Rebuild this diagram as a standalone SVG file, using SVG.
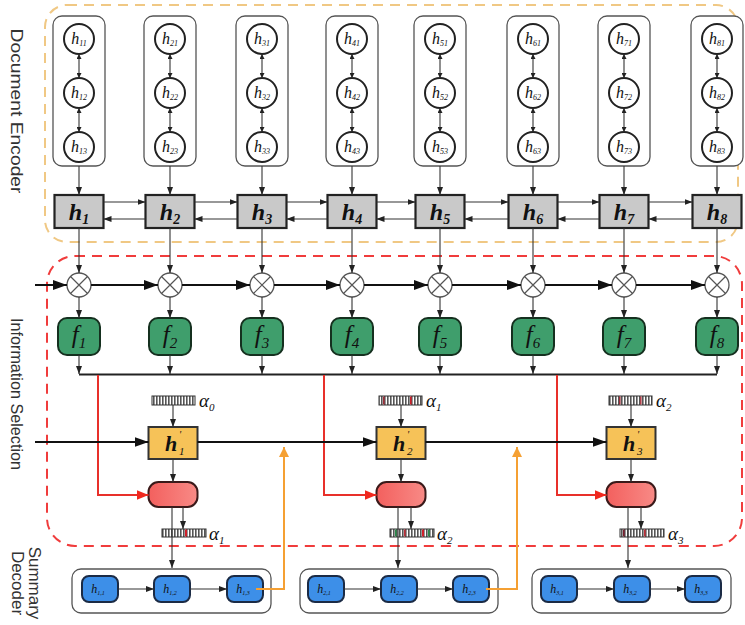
<svg xmlns="http://www.w3.org/2000/svg" width="745" height="625" viewBox="0 0 745 625">
<style>
.col{fill:#fff;stroke:#555;stroke-width:1.3}
.cir{fill:#fff;stroke:#222;stroke-width:2}
.gbox{fill:#c9c9c9;stroke:#222;stroke-width:2.2}
.fbox{fill:#3f9e6c;stroke:#15301f;stroke-width:2}
.ybox{fill:#f6c258;stroke:#333;stroke-width:2}
.pbox{fill:url(#pg);stroke:#3a1a1a;stroke-width:2}
.bbox{fill:#3d8fe8;stroke:#1b2b45;stroke-width:2}
.cont{fill:none;stroke:#555;stroke-width:1.3}
.mul{fill:#fff;stroke:#555;stroke-width:1.3}
.ln{fill:none;stroke:#333;stroke-width:1.1}
.thk{fill:none;stroke:#111;stroke-width:2}
.red{fill:none;stroke:#e8302a;stroke-width:2}
.org{fill:none;stroke:#f5a033;stroke-width:2}
.m{font-family:"Liberation Serif","Times New Roman",serif;font-style:italic;fill:#111}
.side{font-family:"Liberation Sans",Arial,sans-serif;font-size:17px;fill:#333}
</style>
<defs>
<linearGradient id="pg" x1="0" x2="1" y1="0" y2="0"><stop offset="0" stop-color="#f3605e"/><stop offset="1" stop-color="#f88a86"/></linearGradient>
<marker id="a" markerUnits="userSpaceOnUse" markerWidth="8" markerHeight="6" refX="8" refY="3" orient="auto-start-reverse"><path d="M0,0 L8,3 L0,6 z" fill="#222"/></marker>
<marker id="t" markerUnits="userSpaceOnUse" markerWidth="5" markerHeight="5" refX="5" refY="2.5" orient="auto-start-reverse"><path d="M0,0 L5,2.5 L0,5 z" fill="#222"/></marker>
<marker id="b" markerUnits="userSpaceOnUse" markerWidth="14" markerHeight="10" refX="14" refY="5" orient="auto"><path d="M0,0 L14,5 L0,10 z" fill="#111"/></marker>
<marker id="r" markerUnits="userSpaceOnUse" markerWidth="12" markerHeight="10" refX="12" refY="5" orient="auto"><path d="M0,0 L12,5 L0,10 z" fill="#f0281e"/></marker>
<marker id="o" markerUnits="userSpaceOnUse" markerWidth="10" markerHeight="10" refX="10" refY="5" orient="auto"><path d="M0,0 L10,5 L0,10 z" fill="#f5a033"/></marker>
<pattern id="st" patternUnits="userSpaceOnUse" width="3" height="12"><rect width="3" height="12" fill="#fff"/><rect width="1.6" height="12" fill="#555"/></pattern>
<g id="mx"><circle r="12" class="mul"/><path d="M-8.5,-8.5 L8.5,8.5 M8.5,-8.5 L-8.5,8.5" stroke="#555" stroke-width="1.2"/></g>
</defs>

<!-- region frames -->
<rect x="45" y="5" width="693" height="237" rx="22" fill="none" stroke="#f0c884" stroke-width="2" stroke-dasharray="10 7"/>
<rect x="47" y="256" width="695" height="290" rx="28" fill="none" stroke="#f03c3c" stroke-width="2" stroke-dasharray="10 7"/>

<text class="side" transform="translate(11,111) rotate(90)" text-anchor="middle" textLength="165" lengthAdjust="spacingAndGlyphs">Document Encoder</text>
<text class="side" transform="translate(11,394) rotate(90)" text-anchor="middle" textLength="152" lengthAdjust="spacingAndGlyphs">Information Selection</text>
<text class="side" transform="translate(29,583) rotate(90)" text-anchor="middle">Summary</text>
<text class="side" transform="translate(12,583) rotate(90)" text-anchor="middle">Decoder</text>

<!-- word-level columns -->
<g id="col1"><rect class="col" x="53" y="16" width="52" height="150" rx="9"/>
<circle class="cir" cx="79" cy="39" r="15"/><circle class="cir" cx="79" cy="93" r="15"/><circle class="cir" cx="79" cy="147" r="15"/>
<text class="m" x="79" y="44" font-size="16" text-anchor="middle">h<tspan font-size="8" dy="2">11</tspan></text>
<text class="m" x="79" y="98" font-size="16" text-anchor="middle">h<tspan font-size="8" dy="2">12</tspan></text>
<text class="m" x="79" y="152" font-size="16" text-anchor="middle">h<tspan font-size="8" dy="2">13</tspan></text></g>
<g id="col2"><rect class="col" x="144" y="16" width="52" height="150" rx="9"/>
<circle class="cir" cx="170" cy="39" r="15"/><circle class="cir" cx="170" cy="93" r="15"/><circle class="cir" cx="170" cy="147" r="15"/>
<text class="m" x="170" y="44" font-size="16" text-anchor="middle">h<tspan font-size="8" dy="2">21</tspan></text>
<text class="m" x="170" y="98" font-size="16" text-anchor="middle">h<tspan font-size="8" dy="2">22</tspan></text>
<text class="m" x="170" y="152" font-size="16" text-anchor="middle">h<tspan font-size="8" dy="2">23</tspan></text></g>
<g id="col3"><rect class="col" x="236" y="16" width="52" height="150" rx="9"/>
<circle class="cir" cx="262" cy="39" r="15"/><circle class="cir" cx="262" cy="93" r="15"/><circle class="cir" cx="262" cy="147" r="15"/>
<text class="m" x="262" y="44" font-size="16" text-anchor="middle">h<tspan font-size="8" dy="2">31</tspan></text>
<text class="m" x="262" y="98" font-size="16" text-anchor="middle">h<tspan font-size="8" dy="2">32</tspan></text>
<text class="m" x="262" y="152" font-size="16" text-anchor="middle">h<tspan font-size="8" dy="2">33</tspan></text></g>
<g id="col4"><rect class="col" x="326" y="16" width="52" height="150" rx="9"/>
<circle class="cir" cx="352" cy="39" r="15"/><circle class="cir" cx="352" cy="93" r="15"/><circle class="cir" cx="352" cy="147" r="15"/>
<text class="m" x="352" y="44" font-size="16" text-anchor="middle">h<tspan font-size="8" dy="2">41</tspan></text>
<text class="m" x="352" y="98" font-size="16" text-anchor="middle">h<tspan font-size="8" dy="2">42</tspan></text>
<text class="m" x="352" y="152" font-size="16" text-anchor="middle">h<tspan font-size="8" dy="2">43</tspan></text></g>
<g id="col5"><rect class="col" x="414" y="16" width="52" height="150" rx="9"/>
<circle class="cir" cx="440" cy="39" r="15"/><circle class="cir" cx="440" cy="93" r="15"/><circle class="cir" cx="440" cy="147" r="15"/>
<text class="m" x="440" y="44" font-size="16" text-anchor="middle">h<tspan font-size="8" dy="2">51</tspan></text>
<text class="m" x="440" y="98" font-size="16" text-anchor="middle">h<tspan font-size="8" dy="2">52</tspan></text>
<text class="m" x="440" y="152" font-size="16" text-anchor="middle">h<tspan font-size="8" dy="2">53</tspan></text></g>
<g id="col6"><rect class="col" x="507" y="16" width="52" height="150" rx="9"/>
<circle class="cir" cx="533" cy="39" r="15"/><circle class="cir" cx="533" cy="93" r="15"/><circle class="cir" cx="533" cy="147" r="15"/>
<text class="m" x="533" y="44" font-size="16" text-anchor="middle">h<tspan font-size="8" dy="2">61</tspan></text>
<text class="m" x="533" y="98" font-size="16" text-anchor="middle">h<tspan font-size="8" dy="2">62</tspan></text>
<text class="m" x="533" y="152" font-size="16" text-anchor="middle">h<tspan font-size="8" dy="2">63</tspan></text></g>
<g id="col7"><rect class="col" x="598" y="16" width="52" height="150" rx="9"/>
<circle class="cir" cx="624" cy="39" r="15"/><circle class="cir" cx="624" cy="93" r="15"/><circle class="cir" cx="624" cy="147" r="15"/>
<text class="m" x="624" y="44" font-size="16" text-anchor="middle">h<tspan font-size="8" dy="2">71</tspan></text>
<text class="m" x="624" y="98" font-size="16" text-anchor="middle">h<tspan font-size="8" dy="2">72</tspan></text>
<text class="m" x="624" y="152" font-size="16" text-anchor="middle">h<tspan font-size="8" dy="2">73</tspan></text></g>
<g id="col8"><rect class="col" x="691" y="16" width="52" height="150" rx="9"/>
<circle class="cir" cx="717" cy="39" r="15"/><circle class="cir" cx="717" cy="93" r="15"/><circle class="cir" cx="717" cy="147" r="15"/>
<text class="m" x="717" y="44" font-size="16" text-anchor="middle">h<tspan font-size="8" dy="2">81</tspan></text>
<text class="m" x="717" y="98" font-size="16" text-anchor="middle">h<tspan font-size="8" dy="2">82</tspan></text>
<text class="m" x="717" y="152" font-size="16" text-anchor="middle">h<tspan font-size="8" dy="2">83</tspan></text></g>

<!-- sentence boxes -->
<g id="s1"><rect class="gbox" x="54.5" y="195" width="49" height="33"/><text class="m" x="79" y="220" font-size="24" font-weight="bold" text-anchor="middle">h<tspan font-size="14" dy="4">1</tspan></text></g>
<g id="s2"><rect class="gbox" x="145.5" y="195" width="49" height="33"/><text class="m" x="170" y="220" font-size="24" font-weight="bold" text-anchor="middle">h<tspan font-size="14" dy="4">2</tspan></text></g>
<g id="s3"><rect class="gbox" x="237.5" y="195" width="49" height="33"/><text class="m" x="262" y="220" font-size="24" font-weight="bold" text-anchor="middle">h<tspan font-size="14" dy="4">3</tspan></text></g>
<g id="s4"><rect class="gbox" x="327.5" y="195" width="49" height="33"/><text class="m" x="352" y="220" font-size="24" font-weight="bold" text-anchor="middle">h<tspan font-size="14" dy="4">4</tspan></text></g>
<g id="s5"><rect class="gbox" x="415.5" y="195" width="49" height="33"/><text class="m" x="440" y="220" font-size="24" font-weight="bold" text-anchor="middle">h<tspan font-size="14" dy="4">5</tspan></text></g>
<g id="s6"><rect class="gbox" x="508.5" y="195" width="49" height="33"/><text class="m" x="533" y="220" font-size="24" font-weight="bold" text-anchor="middle">h<tspan font-size="14" dy="4">6</tspan></text></g>
<g id="s7"><rect class="gbox" x="599.5" y="195" width="49" height="33"/><text class="m" x="624" y="220" font-size="24" font-weight="bold" text-anchor="middle">h<tspan font-size="14" dy="4">7</tspan></text></g>
<g id="s8"><rect class="gbox" x="692.5" y="195" width="49" height="33"/><text class="m" x="717" y="220" font-size="24" font-weight="bold" text-anchor="middle">h<tspan font-size="14" dy="4">8</tspan></text></g>

<!-- multipliers -->
<g id="x1"><use href="#mx" x="79" y="285"/></g>
<g id="x2"><use href="#mx" x="170" y="285"/></g>
<g id="x3"><use href="#mx" x="262" y="285"/></g>
<g id="x4"><use href="#mx" x="352" y="285"/></g>
<g id="x5"><use href="#mx" x="440" y="285"/></g>
<g id="x6"><use href="#mx" x="533" y="285"/></g>
<g id="x7"><use href="#mx" x="624" y="285"/></g>
<g id="x8"><use href="#mx" x="717" y="285"/></g>

<!-- f gates -->
<g id="f1"><rect class="fbox" x="58" y="318" width="42" height="37" rx="9"/><text class="m" x="79" y="343" font-size="25" fill="#0d2818" text-anchor="middle">f<tspan font-size="15" dy="5">1</tspan></text></g>
<g id="f2"><rect class="fbox" x="149" y="318" width="42" height="37" rx="9"/><text class="m" x="170" y="343" font-size="25" fill="#0d2818" text-anchor="middle">f<tspan font-size="15" dy="5">2</tspan></text></g>
<g id="f3"><rect class="fbox" x="241" y="318" width="42" height="37" rx="9"/><text class="m" x="262" y="343" font-size="25" fill="#0d2818" text-anchor="middle">f<tspan font-size="15" dy="5">3</tspan></text></g>
<g id="f4"><rect class="fbox" x="331" y="318" width="42" height="37" rx="9"/><text class="m" x="352" y="343" font-size="25" fill="#0d2818" text-anchor="middle">f<tspan font-size="15" dy="5">4</tspan></text></g>
<g id="f5"><rect class="fbox" x="419" y="318" width="42" height="37" rx="9"/><text class="m" x="440" y="343" font-size="25" fill="#0d2818" text-anchor="middle">f<tspan font-size="15" dy="5">5</tspan></text></g>
<g id="f6"><rect class="fbox" x="512" y="318" width="42" height="37" rx="9"/><text class="m" x="533" y="343" font-size="25" fill="#0d2818" text-anchor="middle">f<tspan font-size="15" dy="5">6</tspan></text></g>
<g id="f7"><rect class="fbox" x="603" y="318" width="42" height="37" rx="9"/><text class="m" x="624" y="343" font-size="25" fill="#0d2818" text-anchor="middle">f<tspan font-size="15" dy="5">7</tspan></text></g>
<g id="f8"><rect class="fbox" x="696" y="318" width="42" height="37" rx="9"/><text class="m" x="717" y="343" font-size="25" fill="#0d2818" text-anchor="middle">f<tspan font-size="15" dy="5">8</tspan></text></g>

<!-- attention vectors -->
<g id="att0"><rect x="152" y="396" width="43" height="9" fill="url(#st)" stroke="#333" stroke-width="1"/><text class="m" x="199" y="407" font-size="19">α<tspan font-size="11" dy="4">0</tspan></text></g>
<g id="att1"><rect x="379" y="396" width="43" height="9" fill="url(#st)" stroke="#333" stroke-width="1"/><rect x="383" y="396.5" width="1.6" height="8" fill="#a0303a"/><rect x="410" y="396.5" width="1.6" height="8" fill="#d0202a"/><text class="m" x="426" y="407" font-size="19">α<tspan font-size="11" dy="4">1</tspan></text></g>
<g id="att2"><rect x="609" y="396" width="43" height="9" fill="url(#st)" stroke="#333" stroke-width="1"/><rect x="619" y="396.5" width="1.6" height="8" fill="#a0303a"/><rect x="640" y="396.5" width="1.6" height="8" fill="#b0404a"/><text class="m" x="656" y="407" font-size="19">α<tspan font-size="11" dy="4">2</tspan></text></g>
<g id="att1b"><rect x="162" y="529" width="44" height="8" fill="url(#st)" stroke="#333" stroke-width="1"/><rect x="185" y="529.5" width="2" height="7" fill="#d0202a"/><text class="m" x="209" y="540" font-size="19">α<tspan font-size="11" dy="4">1</tspan></text></g>
<g id="att2b"><rect x="390" y="529" width="44" height="8" fill="url(#st)" stroke="#333" stroke-width="1"/><rect x="395" y="529.5" width="1.6" height="7" fill="#2a8a4a"/><rect x="404" y="529.5" width="1.6" height="7" fill="#c0303a"/><rect x="422" y="529.5" width="2" height="7" fill="#d0202a"/><rect x="428" y="529.5" width="1.6" height="7" fill="#2a8a4a"/><text class="m" x="437" y="540" font-size="19">α<tspan font-size="11" dy="4">2</tspan></text></g>
<g id="att3b"><rect x="620" y="529" width="44" height="8" fill="url(#st)" stroke="#333" stroke-width="1"/><rect x="623" y="529.5" width="1.6" height="7" fill="#7a2030"/><rect x="644" y="529.5" width="1.6" height="7" fill="#c0303a"/><text class="m" x="668" y="540" font-size="19">α<tspan font-size="11" dy="4">3</tspan></text></g>

<!-- decoder states -->
<g id="d1"><rect class="ybox" x="148.5" y="427" width="49" height="32"/><text class="m" x="171" y="451" font-size="22" font-weight="bold" text-anchor="middle">h</text><text class="m" x="179" y="438" font-size="10">'</text><text class="m" x="179" y="455" font-size="11">1</text></g>
<g id="d2"><rect class="ybox" x="376.5" y="427" width="49" height="32"/><text class="m" x="399" y="451" font-size="22" font-weight="bold" text-anchor="middle">h</text><text class="m" x="407" y="438" font-size="10">'</text><text class="m" x="407" y="455" font-size="11">2</text></g>
<g id="d3"><rect class="ybox" x="606.5" y="427" width="49" height="32"/><text class="m" x="629" y="451" font-size="22" font-weight="bold" text-anchor="middle">h</text><text class="m" x="637" y="438" font-size="10">'</text><text class="m" x="637" y="455" font-size="11">3</text></g>

<!-- selection cells -->
<g id="p1"><rect class="pbox" x="148.5" y="482" width="49" height="25" rx="10"/></g>
<g id="p2"><rect class="pbox" x="376.5" y="482" width="49" height="25" rx="10"/></g>
<g id="p3"><rect class="pbox" x="606.5" y="482" width="49" height="25" rx="10"/></g>

<!-- summary decoder -->
<g id="dec1"><rect class="cont" x="72" y="569" width="199" height="44" rx="9"/>
<rect class="bbox" x="82" y="576" width="36" height="26" rx="7"/><rect class="bbox" x="154" y="576" width="36" height="26" rx="7"/><rect class="bbox" x="227" y="576" width="36" height="26" rx="7"/>
<text class="m" x="98" y="593" font-size="12" text-anchor="middle">h<tspan font-size="6" dy="2">1,1</tspan></text>
<text class="m" x="170" y="593" font-size="12" text-anchor="middle">h<tspan font-size="6" dy="2">1,2</tspan></text>
<text class="m" x="243" y="593" font-size="12" text-anchor="middle">h<tspan font-size="6" dy="2">1,3</tspan></text></g>
<g id="dec2"><rect class="cont" x="300" y="569" width="198" height="44" rx="9"/>
<rect class="bbox" x="308" y="576" width="36" height="26" rx="7"/><rect class="bbox" x="381" y="576" width="36" height="26" rx="7"/><rect class="bbox" x="453" y="576" width="36" height="26" rx="7"/>
<text class="m" x="324" y="593" font-size="12" text-anchor="middle">h<tspan font-size="6" dy="2">2,1</tspan></text>
<text class="m" x="397" y="593" font-size="12" text-anchor="middle">h<tspan font-size="6" dy="2">2,2</tspan></text>
<text class="m" x="469" y="593" font-size="12" text-anchor="middle">h<tspan font-size="6" dy="2">2,3</tspan></text></g>
<g id="dec3"><rect class="cont" x="532" y="569" width="199" height="44" rx="9"/>
<rect class="bbox" x="541" y="576" width="36" height="26" rx="7"/><rect class="bbox" x="614" y="576" width="36" height="26" rx="7"/><rect class="bbox" x="685" y="576" width="36" height="26" rx="7"/>
<text class="m" x="557" y="593" font-size="12" text-anchor="middle">h<tspan font-size="6" dy="2">3,1</tspan></text>
<text class="m" x="630" y="593" font-size="12" text-anchor="middle">h<tspan font-size="6" dy="2">3,2</tspan></text>
<text class="m" x="701" y="593" font-size="12" text-anchor="middle">h<tspan font-size="6" dy="2">3,3</tspan></text></g>

<!-- connectors -->
<g id="connectors">
<path class="ln" marker-start="url(#t)" marker-end="url(#t)" d="M79,54 V78"/><path class="ln" marker-start="url(#t)" marker-end="url(#t)" d="M79,108 V132"/>
<path class="ln" marker-start="url(#t)" marker-end="url(#t)" d="M170,54 V78"/><path class="ln" marker-start="url(#t)" marker-end="url(#t)" d="M170,108 V132"/>
<path class="ln" marker-start="url(#t)" marker-end="url(#t)" d="M262,54 V78"/><path class="ln" marker-start="url(#t)" marker-end="url(#t)" d="M262,108 V132"/>
<path class="ln" marker-start="url(#t)" marker-end="url(#t)" d="M352,54 V78"/><path class="ln" marker-start="url(#t)" marker-end="url(#t)" d="M352,108 V132"/>
<path class="ln" marker-start="url(#t)" marker-end="url(#t)" d="M440,54 V78"/><path class="ln" marker-start="url(#t)" marker-end="url(#t)" d="M440,108 V132"/>
<path class="ln" marker-start="url(#t)" marker-end="url(#t)" d="M533,54 V78"/><path class="ln" marker-start="url(#t)" marker-end="url(#t)" d="M533,108 V132"/>
<path class="ln" marker-start="url(#t)" marker-end="url(#t)" d="M624,54 V78"/><path class="ln" marker-start="url(#t)" marker-end="url(#t)" d="M624,108 V132"/>
<path class="ln" marker-start="url(#t)" marker-end="url(#t)" d="M717,54 V78"/><path class="ln" marker-start="url(#t)" marker-end="url(#t)" d="M717,108 V132"/>
<path class="ln" marker-end="url(#a)" d="M79,166 V195"/><path class="ln" marker-end="url(#a)" d="M170,166 V195"/><path class="ln" marker-end="url(#a)" d="M262,166 V195"/><path class="ln" marker-end="url(#a)" d="M352,166 V195"/><path class="ln" marker-end="url(#a)" d="M440,166 V195"/><path class="ln" marker-end="url(#a)" d="M533,166 V195"/><path class="ln" marker-end="url(#a)" d="M624,166 V195"/><path class="ln" marker-end="url(#a)" d="M717,166 V195"/>
<path class="ln" marker-end="url(#a)" d="M103.5,202 H145.5"/><path class="ln" marker-end="url(#a)" d="M194.5,202 H237.5"/><path class="ln" marker-end="url(#a)" d="M286.5,202 H327.5"/><path class="ln" marker-end="url(#a)" d="M376.5,202 H415.5"/><path class="ln" marker-end="url(#a)" d="M464.5,202 H508.5"/><path class="ln" marker-end="url(#a)" d="M557.5,202 H599.5"/><path class="ln" marker-end="url(#a)" d="M648.5,202 H692.5"/>
<path class="ln" marker-end="url(#a)" d="M145.5,219 H103.5"/><path class="ln" marker-end="url(#a)" d="M237.5,219 H194.5"/><path class="ln" marker-end="url(#a)" d="M327.5,219 H286.5"/><path class="ln" marker-end="url(#a)" d="M415.5,219 H376.5"/><path class="ln" marker-end="url(#a)" d="M508.5,219 H464.5"/><path class="ln" marker-end="url(#a)" d="M599.5,219 H557.5"/><path class="ln" marker-end="url(#a)" d="M692.5,219 H648.5"/>
<path class="ln" marker-end="url(#a)" d="M79,228 V273"/><path class="ln" marker-end="url(#a)" d="M170,228 V273"/><path class="ln" marker-end="url(#a)" d="M262,228 V273"/><path class="ln" marker-end="url(#a)" d="M352,228 V273"/><path class="ln" marker-end="url(#a)" d="M440,228 V273"/><path class="ln" marker-end="url(#a)" d="M533,228 V273"/><path class="ln" marker-end="url(#a)" d="M624,228 V273"/><path class="ln" marker-end="url(#a)" d="M717,228 V273"/>
<path class="thk" marker-end="url(#b)" d="M35,285 H67"/><path class="thk" marker-end="url(#b)" d="M91,285 H158"/><path class="thk" marker-end="url(#b)" d="M182,285 H250"/><path class="thk" marker-end="url(#b)" d="M274,285 H340"/><path class="thk" marker-end="url(#b)" d="M364,285 H428"/><path class="thk" marker-end="url(#b)" d="M452,285 H521"/><path class="thk" marker-end="url(#b)" d="M545,285 H612"/><path class="thk" marker-end="url(#b)" d="M636,285 H705"/>
<path class="ln" marker-end="url(#a)" d="M79,297 V318"/><path class="ln" marker-end="url(#a)" d="M170,297 V318"/><path class="ln" marker-end="url(#a)" d="M262,297 V318"/><path class="ln" marker-end="url(#a)" d="M352,297 V318"/><path class="ln" marker-end="url(#a)" d="M440,297 V318"/><path class="ln" marker-end="url(#a)" d="M533,297 V318"/><path class="ln" marker-end="url(#a)" d="M624,297 V318"/><path class="ln" marker-end="url(#a)" d="M717,297 V318"/>
<path class="ln" marker-end="url(#a)" d="M79,355 V374"/><path class="ln" marker-end="url(#a)" d="M170,355 V374"/><path class="ln" marker-end="url(#a)" d="M262,355 V374"/><path class="ln" marker-end="url(#a)" d="M352,355 V374"/><path class="ln" marker-end="url(#a)" d="M440,355 V374"/><path class="ln" marker-end="url(#a)" d="M533,355 V374"/><path class="ln" marker-end="url(#a)" d="M624,355 V374"/><path class="ln" marker-end="url(#a)" d="M717,355 V374"/>
<path d="M79,374.5 H717" stroke="#222" stroke-width="1.8" fill="none"/>
<path class="red" marker-end="url(#r)" d="M98,375 V495 H148.5"/>
<path class="red" marker-end="url(#r)" d="M324,375 V495 H376.5"/>
<path class="red" marker-end="url(#r)" d="M557,375 V495 H606.5"/>
<path class="thk" stroke-width="1.6" marker-end="url(#b)" d="M35,442 H148.5"/>
<path class="thk" stroke-width="1.6" marker-end="url(#b)" d="M197.5,442 H376.5"/>
<path class="thk" stroke-width="1.6" marker-end="url(#b)" d="M425.5,442 H606.5"/>
<path class="ln" marker-end="url(#a)" d="M173,405 V427"/><path class="ln" marker-end="url(#a)" d="M401,405 V427"/><path class="ln" marker-end="url(#a)" d="M631,405 V427"/>
<path class="ln" marker-end="url(#a)" d="M173,459 V482"/><path class="ln" marker-end="url(#a)" d="M401,459 V482"/><path class="ln" marker-end="url(#a)" d="M631,459 V482"/>
<path class="ln" marker-end="url(#a)" d="M183,507 V529"/><path class="ln" marker-end="url(#a)" d="M411,507 V529"/><path class="ln" marker-end="url(#a)" d="M641,507 V529"/>
<path class="ln" marker-end="url(#a)" d="M172,507 V568"/><path class="ln" marker-end="url(#a)" d="M398,507 V568"/><path class="ln" marker-end="url(#a)" d="M628,507 V568"/>
<path class="ln" marker-end="url(#a)" d="M118,589 H154"/><path class="ln" marker-end="url(#a)" d="M190,589 H227"/>
<path class="ln" marker-end="url(#a)" d="M344,589 H381"/><path class="ln" marker-end="url(#a)" d="M417,589 H453"/>
<path class="ln" marker-end="url(#a)" d="M577,589 H614"/><path class="ln" marker-end="url(#a)" d="M650,589 H685"/>
<path class="org" marker-end="url(#o)" d="M256,589 H284 V447"/>
<path class="org" marker-end="url(#o)" d="M486,589 H517 V447"/>
</g>
</svg>
